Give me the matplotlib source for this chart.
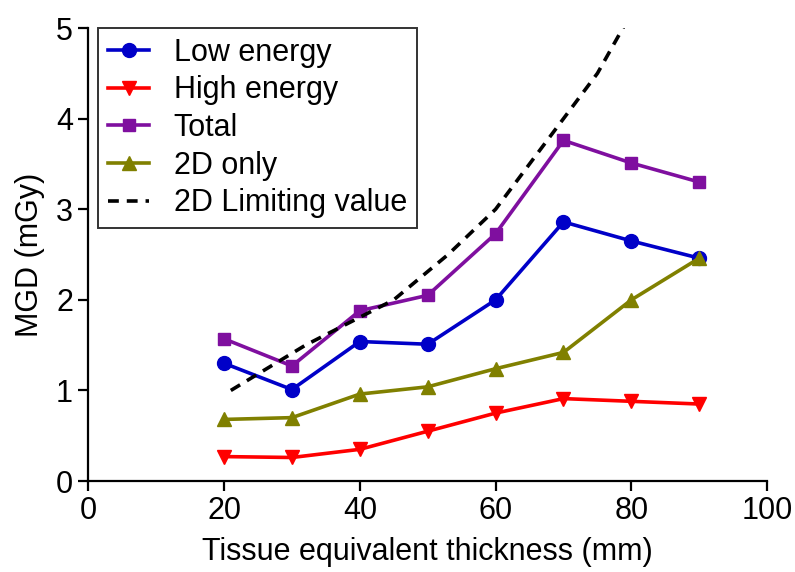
import numpy as np
import matplotlib.pyplot as plt

plt.rcParams['font.family'] = ['Liberation Sans', 'DejaVu Sans']

# thickness (mm)
thickness = [20, 30, 40, 50, 60, 70, 80, 90]

low_energy = [1.30, 1.01, 1.54, 1.51, 2.00, 2.86, 2.65, 2.46]
high_energy = [0.27, 0.26, 0.35, 0.55, 0.75, 0.91, 0.88, 0.85]
total = [1.57, 1.27, 1.88, 2.05, 2.73, 3.76, 3.51, 3.30]
only_2d = [0.68, 0.70, 0.96, 1.04, 1.24, 1.42, 2.00, 2.46]

# 2D limiting value curve
limit_x = [21, 32, 45, 53, 60, 75, 90]
limit_y = [1.0, 1.5, 2.0, 2.5, 3.0, 4.5, 6.5]

fig = plt.figure(figsize=(7.95, 5.72), dpi=100)
ax = fig.add_axes([0.111, 0.159, 0.854, 0.792])

lw = 2.6
ms = 10
ax.plot(thickness, low_energy, color='#0000c8', marker='o', lw=lw, ms=ms, label='Low energy')
ax.plot(thickness, high_energy, color='#ff0000', marker='v', lw=lw, ms=ms, label='High energy')
ax.plot(thickness, total, color='#7f0f9f', marker='s', lw=lw, ms=ms - 1, label='Total')
ax.plot(thickness, only_2d, color='#808000', marker='^', lw=lw, ms=ms, label='2D only')
ax.plot(limit_x, limit_y, color='black', ls=(0, (3, 2.2)), lw=2.6, label='2D Limiting value')

ax.set_xlim(0, 100)
ax.set_ylim(0, 5)
ax.set_xticks([0, 20, 40, 60, 80, 100])
ax.set_yticks([0, 1, 2, 3, 4, 5])

for s in ['top', 'right']:
    ax.spines[s].set_visible(False)
for s in ['left', 'bottom']:
    ax.spines[s].set_linewidth(1.6)
ax.tick_params(direction='out', length=7, width=1.6, labelsize=22, pad=4)

ax.set_xlabel('Tissue equivalent thickness (mm)', fontsize=22, labelpad=8)
ax.set_ylabel('MGD (mGy)', fontsize=22, labelpad=8)

leg = ax.legend(loc='upper left', bbox_to_anchor=(0.0147, 1.0), fontsize=22, frameon=True,
                fancybox=False, edgecolor='black', handlelength=1.35, numpoints=1,
                borderpad=0.32, labelspacing=0.25, handletextpad=0.8, borderaxespad=0.0)
leg.get_frame().set_linewidth(1.4)

fig.savefig('out.png', dpi=100)
